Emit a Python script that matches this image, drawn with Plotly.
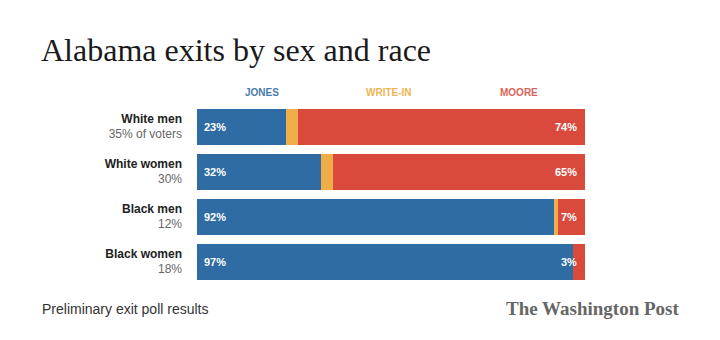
import plotly.graph_objects as go

groups = ["White men", "White women", "Black men", "Black women"]
shares = ["35% of voters", "30%", "12%", "18%"]
jones = [23, 32, 92, 97]
writein = [3, 3, 1, 0]
moore = [74, 65, 7, 3]

BLUE = "#2f6ca3"
ORANGE = "#f0ae4a"
RED = "#da4a3c"

W, H = 720, 340
L, R, T, B = 197, 135, 104, 56
PW, PH = W - L - R, H - T - B

def px(x):
    return (x - L) / PW

def py(y):
    return (H - B - y) / PH

ticktext = [f"<b>{g}</b><br><span style='color:#666'>{s}</span>" for g, s in zip(groups, shares)]

fig = go.Figure()
for name, vals, col in [("Jones", jones, BLUE), ("Write-in", writein, ORANGE), ("Moore", moore, RED)]:
    fig.add_trace(go.Bar(y=groups, x=vals, orientation="h", name=name,
                         marker=dict(color=col, line=dict(width=0)), hoverinfo="x+name"))

ann = []
for g, j, m in zip(groups, jones, moore):
    ann.append(dict(x=0, y=g, xref="x", yref="y", text=f"<b>{j}%</b>", showarrow=False,
                    xanchor="left", xshift=5, font=dict(color="white", size=11, family="Liberation Sans")))
    ann.append(dict(x=100, y=g, xref="x", yref="y", text=f"<b>{m}%</b>", showarrow=False,
                    xanchor="right", xshift=-6, font=dict(color="white", size=11, family="Liberation Sans")))

for txt, xc, col in [("JONES", 262, "#4a7cab"), ("WRITE-IN", 389, "#f0b454"), ("MOORE", 519, "#d9655a")]:
    ann.append(dict(x=px(xc), y=py(92), xref="paper", yref="paper", text=f"<b>{txt}</b>",
                    showarrow=False, xanchor="center", yanchor="middle",
                    font=dict(color=col, size=10, family="Liberation Sans")))

ann.append(dict(x=px(39), y=py(50), xref="paper", yref="paper", text="Alabama exits by sex and race",
                showarrow=False, xanchor="left", yanchor="middle",
                font=dict(color="#1a1a1a", size=32, family="Liberation Serif")))
ann.append(dict(x=px(40), y=py(309), xref="paper", yref="paper", text="Preliminary exit poll results",
                showarrow=False, xanchor="left", yanchor="middle",
                font=dict(color="#333", size=14, family="Liberation Sans")))
ann.append(dict(x=px(681), y=py(308), xref="paper", yref="paper", text="<b>The Washington Post</b>",
                showarrow=False, xanchor="right", yanchor="middle",
                font=dict(color="#666", size=19, family="Liberation Serif")))

fig.update_layout(
    width=W, height=H, margin=dict(l=L, r=R, t=T, b=B),
    barmode="stack", bargap=0.2, showlegend=False,
    paper_bgcolor="white", plot_bgcolor="white",
    xaxis=dict(range=[0, 100], visible=False, fixedrange=True),
    yaxis=dict(categoryorder="array", categoryarray=groups[::-1], tickmode="array",
               tickvals=groups, ticktext=ticktext, showgrid=False, zeroline=False,
               showline=False, ticks="", ticklabelstandoff=14,
               tickfont=dict(size=12, family="Liberation Sans", color="#222"), fixedrange=True),
    annotations=ann,
)

fig.write_html("out.html")
